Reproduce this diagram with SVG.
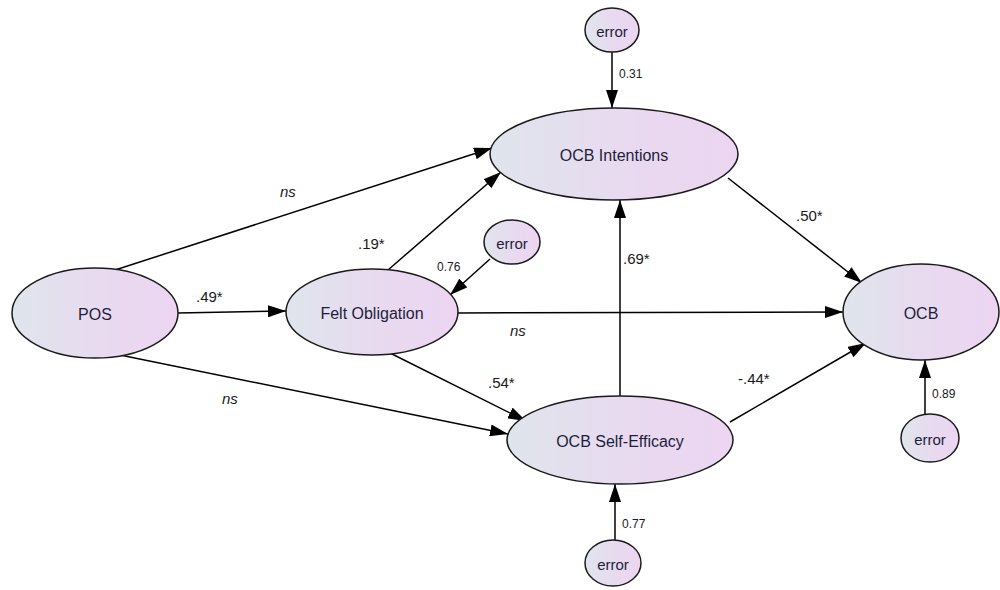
<svg xmlns="http://www.w3.org/2000/svg" width="1000" height="590" viewBox="0 0 1000 590">
  <defs>
    <linearGradient id="fill" x1="0" y1="0" x2="1" y2="0">
      <stop offset="0" stop-color="#dfe5ec"/>
      <stop offset="0.6" stop-color="#e9d9f0"/>
      <stop offset="1" stop-color="#ecd5f1"/>
    </linearGradient>
    <marker id="arrow" viewBox="0 0 18 12" refX="18" refY="6" markerWidth="18" markerHeight="12" markerUnits="userSpaceOnUse" orient="auto">
      <path d="M0,0 L18,6 L0,12 Z" fill="#000"/>
    </marker>
    <style>
      .node ellipse { fill: url(#fill); stroke: #1a1a1a; stroke-width: 1.5; }
      .node text { font-family: "Liberation Sans", Arial, sans-serif; font-size: 16px; fill: #1e1e3c; text-anchor: middle; dominant-baseline: central; }
      .err text { font-size: 15px; }
      .edges line { stroke: #000; stroke-width: 1.5; marker-end: url(#arrow); }
      .lbl { font-family: "Liberation Sans", Arial, sans-serif; font-size: 15px; fill: #1a1a1a; }
      .ns { font-style: italic; }
      .small { font-family: "Liberation Sans", Arial, sans-serif; font-size: 12px; fill: #1a1a1a; }
    </style>
  </defs>
  <rect width="1000" height="590" fill="#fff"/>

  <!-- paths between constructs -->
  <g id="connectors" class="edges">
    <line x1="112" y1="271" x2="492" y2="148"/>
    <line x1="178" y1="313" x2="286" y2="311"/>
    <line x1="120" y1="355" x2="508" y2="434"/>
    <line x1="388" y1="270" x2="501" y2="172"/>
    <line x1="490" y1="259" x2="450" y2="295"/>
    <line x1="458" y1="313" x2="843" y2="312"/>
    <line x1="390" y1="353" x2="526" y2="421"/>
    <line x1="620" y1="396" x2="620" y2="200"/>
    <line x1="728" y1="178" x2="862" y2="283"/>
    <line x1="730" y1="422" x2="866" y2="343"/>
    <line x1="612" y1="52" x2="612" y2="108"/>
    <line x1="615" y1="540" x2="615" y2="484"/>
    <line x1="925" y1="414" x2="925" y2="360"/>
  </g>

  <!-- path coefficients -->
  <g id="labels">
    <text class="lbl ns" x="280" y="197">ns</text>
    <text class="lbl" x="196" y="302">.49*</text>
    <text class="lbl ns" x="222" y="404">ns</text>
    <text class="lbl" x="358" y="249">.19*</text>
    <text class="small" x="437" y="271">0.76</text>
    <text class="lbl ns" x="510" y="336">ns</text>
    <text class="lbl" x="488" y="388">.54*</text>
    <text class="lbl" x="623" y="264">.69*</text>
    <text class="lbl" x="796" y="221">.50*</text>
    <text class="lbl" x="738" y="384">-.44*</text>
    <text class="small" x="619" y="78">0.31</text>
    <text class="small" x="622" y="528">0.77</text>
    <text class="small" x="932" y="398">0.89</text>
  </g>

  <g id="pos" class="node">
    <ellipse cx="95" cy="313" rx="83" ry="45"/>
    <text x="95" y="314">POS</text>
  </g>
  <g id="felt-obligation" class="node">
    <ellipse cx="372" cy="312" rx="86" ry="43"/>
    <text x="372" y="313">Felt Obligation</text>
  </g>
  <g id="ocb-intentions" class="node">
    <ellipse cx="614" cy="154" rx="124" ry="46"/>
    <text x="614" y="155">OCB Intentions</text>
  </g>
  <g id="ocb" class="node">
    <ellipse cx="921" cy="312" rx="78" ry="48"/>
    <text x="921" y="313">OCB</text>
  </g>
  <g id="ocb-self-efficacy" class="node">
    <ellipse cx="620" cy="440" rx="113" ry="44"/>
    <text x="620" y="441">OCB Self-Efficacy</text>
  </g>
  <g id="error-intentions" class="node err">
    <ellipse cx="612" cy="30" rx="27" ry="22"/>
    <text x="612" y="31">error</text>
  </g>
  <g id="error-obligation" class="node err">
    <ellipse cx="512" cy="242" rx="28" ry="22"/>
    <text x="512" y="243">error</text>
  </g>
  <g id="error-ocb" class="node err">
    <ellipse cx="930" cy="438" rx="29" ry="24"/>
    <text x="930" y="439">error</text>
  </g>
  <g id="error-efficacy" class="node err">
    <ellipse cx="613" cy="563" rx="28" ry="23"/>
    <text x="613" y="564">error</text>
  </g>
</svg>
